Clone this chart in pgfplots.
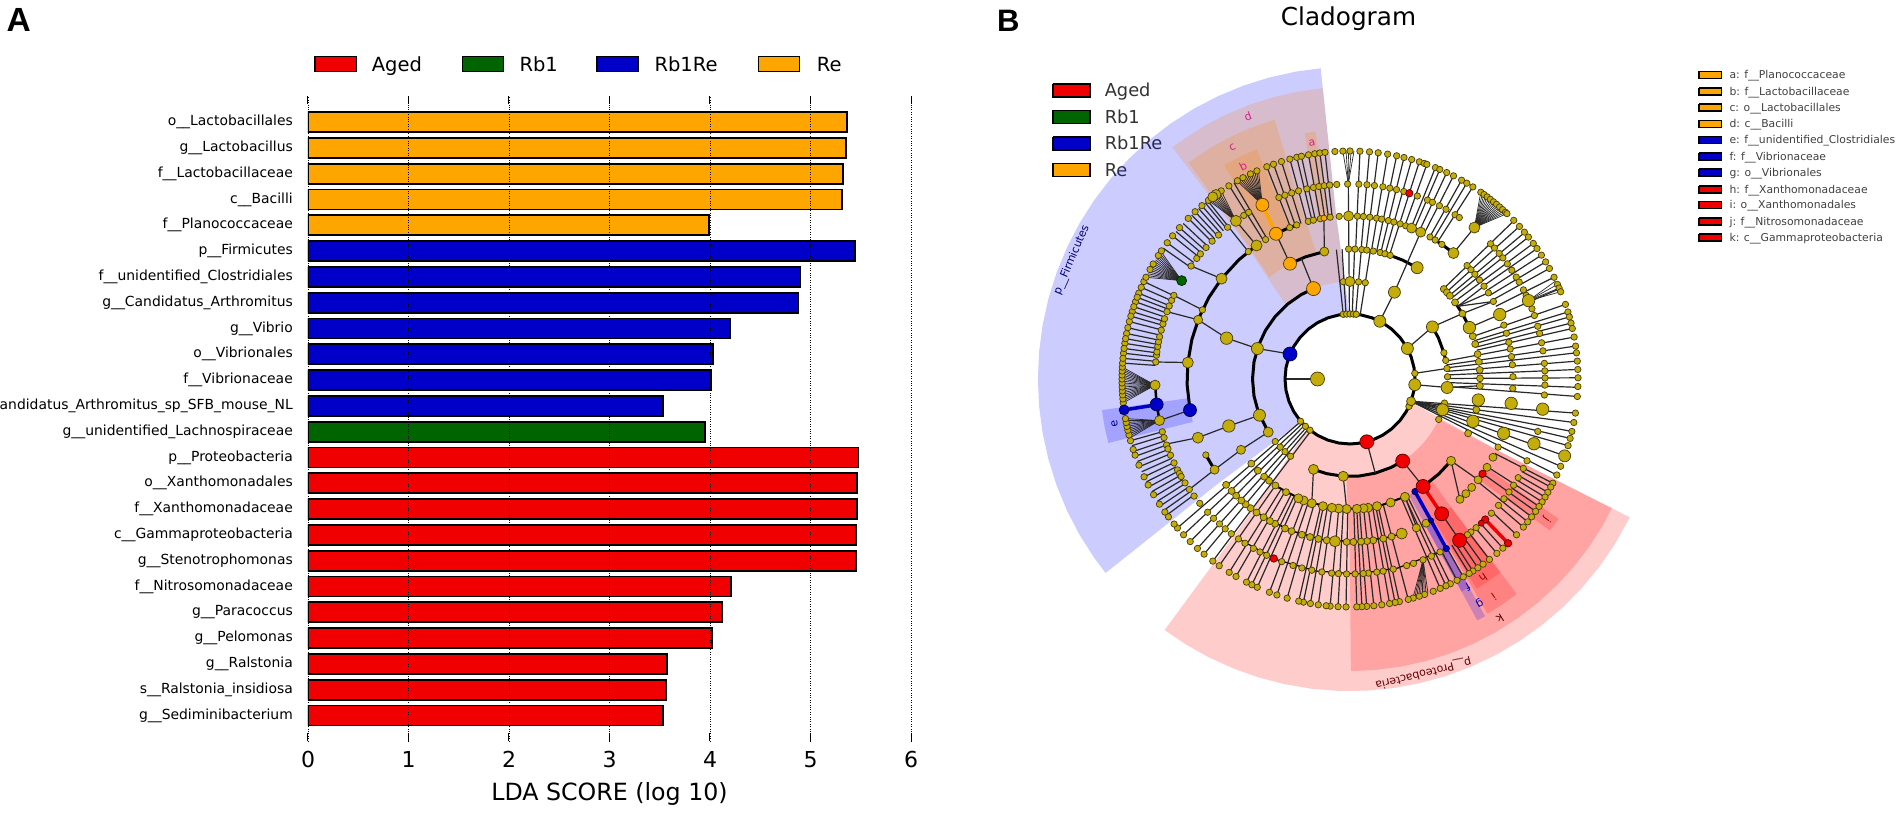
\documentclass[border=0pt]{standalone}
\usepackage{fontspec}
\setmainfont{DejaVu Sans}
\setsansfont{Liberation Sans}
\usepackage{pgfplots}
\pgfplotsset{compat=1.18}

\definecolor{cRed}{RGB}{240,0,0}
\definecolor{cGreen}{RGB}{0,100,0}
\definecolor{cBlue}{RGB}{0,0,200}
\definecolor{cOrange}{RGB}{255,165,0}
\definecolor{yel}{RGB}{196,172,10}
\definecolor{edge}{RGB}{40,40,40}

\newcommand\fs[1]{\fontsize{#1}{#1}\selectfont}

% cladogram helpers: centre of the tree is pixel (1350,379), angles in degrees
\pgfplotsset{
  table/polarrow/.style={row sep=\\,x expr={1350+\thisrow{r}*cos(\thisrow{a})},y expr={-379+\thisrow{r}*sin(\thisrow{a})}},
  table/ring/.style={row sep=\\,x expr={1350+#1*cos(\thisrow{a})},y expr={-379+#1*sin(\thisrow{a})}},
}
% annular sector, as one wide stroke: colour, mid radius, width, angles
\newcommand\sector[4]{\addplot[forget plot,no markers,draw=#1,draw opacity=.2,line width=#3pt,line cap=butt]
  table[ring=#2]{a\\#4\\};}
% thick or thin line on a ring: radius, width, colour, angles
\newcommand\arcl[4]{\addplot[forget plot,no markers,draw=#3,line width=#2pt,line cap=round]
  table[ring=#1]{a\\#4\\};}
% free line through polar points
\newcommand\poly[3]{\addplot[forget plot,no markers,draw=#2,line width=#1pt]
  table[polarrow]{a r\\#3\\};}
% radial lines: from radius, to radius, angles
\newcommand\spokes[3]{\addplot[forget plot,no markers,draw=edge,line width=1.2pt,
  quiver={u={(#2-#1)*cos(\thisrow{a})},v={(#2-#1)*sin(\thisrow{a})}}]
  table[ring=#1]{a\\#3\\};}
% lines out of one node: line width, radius, angle, outer radius, angles
\newcommand\fan[5]{\addplot[forget plot,no markers,draw=edge,line width=#1pt,
  quiver={u={#4*cos(\thisrow{a})-#2*cos(#3)},v={#4*sin(\thisrow{a})-#2*sin(#3)}}]
  table[row sep=\\,x expr={1350+#2*cos(#3)},y expr={-379+#2*sin(#3)}]{a\\#5\\};}
% nodes: ring radius, mark radius, colour, angles
\newcommand\nodes[4]{\addplot[forget plot,only marks,mark=*,mark size=#2,
  mark options={fill=#3,draw=black!65!#3,line width=.7pt}]
  table[ring=#1]{a\\#4\\};}
\newcommand\patch[6]{\addplot[forget plot,no markers,fill=#5,draw=black,line width=#6pt]
  coordinates {(#1,#2)(#3,#2)(#3,#4)(#1,#4)(#1,#2)};}

\begin{document}
\begin{tikzpicture}
\clip[use as bounding box] (0pt,0pt) rectangle (1901pt,812pt);

\begin{axis}[
  at={(308pt,71pt)},anchor=south west,scale only axis,
  width=603pt,height=645pt,
  xmin=0,xmax=6,ymin=-0.99,ymax=24.008,
  axis on top,
  axis line style={draw=none},
  xtick={0,1,2,3,4,5,6},
  xtick pos=both,xticklabel pos=bottom,
  tick align=inside,
  major tick length=8pt,
  x tick style={black,line width=1pt},
  xmajorgrids,
  grid style={dotted,black,line width=.8pt},
  x tick label style={font=\fs{22},anchor=base,yshift=-26.2pt},
  xlabel={LDA SCORE (log 10)},
  xlabel style={font=\fs{23.7},at={(axis description cs:0.5,0)},anchor=base,yshift=-59.5pt},
  ytick={0,...,23},
  ytick pos=left,
  y tick style={draw=none},
  y tick label style={font=\fs{13.9},anchor=east,inner sep=0pt,xshift=-15pt},
  yticklabels={g\_\_Sediminibacterium,s\_\_Ralstonia\_insidiosa,g\_\_Ralstonia,g\_\_Pelomonas,g\_\_Paracoccus,
    f\_\_Nitrosomonadaceae,g\_\_Stenotrophomonas,c\_\_Gammaproteobacteria,f\_\_Xanthomonadaceae,o\_\_Xanthomonadales,
    p\_\_Proteobacteria,g\_\_unidentified\_Lachnospiraceae,g\_\_Candidatus\_Arthromitus\_sp\_SFB\_mouse\_NL,
    f\_\_Vibrionaceae,o\_\_Vibrionales,g\_\_Vibrio,g\_\_Candidatus\_Arthromitus,f\_\_unidentified\_Clostridiales,
    p\_\_Firmicutes,f\_\_Planococcaceae,c\_\_Bacilli,f\_\_Lactobacillaceae,g\_\_Lactobacillus,o\_\_Lactobacillales},
  /pgf/number format/assume math mode=true,
  every axis plot/.append style={xbar,bar shift=0pt,bar width=20pt,draw=black,line width=1.8pt},
]
\addplot[fill=cRed] coordinates {(3.535,0)(3.56,1)(3.575,2)(4.02,3)(4.12,4)(4.205,5)(5.455,6)(5.455,7)(5.46,8)(5.465,9)(5.478,10)};
\addplot[fill=cGreen] coordinates {(3.95,11)};
\addplot[fill=cBlue] coordinates {(3.53,12)(4.01,13)(4.03,14)(4.2,15)(4.88,16)(4.9,17)(5.443,18)};
\addplot[fill=cOrange] coordinates {(3.99,19)(5.315,20)(5.325,21)(5.355,22)(5.36,23)};
\end{axis}

\begin{axis}[
  at={(0pt,0pt)},anchor=south west,scale only axis,
  width=1901pt,height=812pt,
  xmin=0,xmax=1901,ymin=-812,ymax=0,
  axis lines=none,clip=false,
]
% legend of panel A
\patch{315}{-56.5}{356.5}{-71.5}{cRed}{1.6}
\patch{462.5}{-56.5}{503.5}{-71.5}{cGreen}{1.6}
\patch{597}{-56.5}{638}{-71.5}{cBlue}{1.6}
\patch{758.5}{-56.5}{799.5}{-71.5}{cOrange}{1.6}
\node[anchor=base west,inner sep=0pt,font=\fs{19.5}] at (axis cs:371.7,-71.7) {Aged};
\node[anchor=base west,inner sep=0pt,font=\fs{19.5}] at (axis cs:519.3,-71.7) {Rb1};
\node[anchor=base west,inner sep=0pt,font=\fs{19.5}] at (axis cs:654.3,-71.7) {Rb1Re};
\node[anchor=base west,inner sep=0pt,font=\fs{19.5}] at (axis cs:816.7,-71.7) {Re};
% panel letters and title
\node[anchor=base west,inner sep=0pt,font=\sffamily\bfseries\fs{33.5}] at (axis cs:6.5,-32) {A};
\node[anchor=base west,inner sep=0pt,font=\sffamily\bfseries\fs{31}] at (axis cs:997,-32) {B};
\node[anchor=base,inner sep=0pt,font=\fs{24.7}] at (axis cs:1348.5,-26) {Cladogram};
% legend of panel B
\patch{1053}{-84}{1090}{-97}{cRed}{1.4}
\patch{1053}{-110.5}{1090}{-123.5}{cGreen}{1.4}
\patch{1053}{-137}{1090}{-150}{cBlue}{1.4}
\patch{1053}{-163.5}{1090}{-176.5}{cOrange}{1.4}
\node[anchor=base west,inner sep=0pt,font=\fs{17.8},text=black!80] at (axis cs:1104.6,-96.7) {Aged};
\node[anchor=base west,inner sep=0pt,font=\fs{17.8},text=black!80] at (axis cs:1104.6,-123.5) {Rb1};
\node[anchor=base west,inner sep=0pt,font=\fs{17.8},text=black!80] at (axis cs:1104.6,-150) {Rb1Re};
\node[anchor=base west,inner sep=0pt,font=\fs{17.8},text=black!80] at (axis cs:1104.6,-176.5) {Re};
% legend of clade letters
\patch{1699}{-71.5}{1721.5}{-78.5}{cOrange}{1.2}
\patch{1699}{-88}{1721.5}{-95}{cOrange}{1.2}
\patch{1699}{-104}{1721.5}{-111}{cOrange}{1.2}
\patch{1699}{-120.5}{1721.5}{-127.5}{cOrange}{1.2}
\patch{1699}{-136.5}{1721.5}{-143.5}{cBlue}{1.2}
\patch{1699}{-153}{1721.5}{-160}{cBlue}{1.2}
\patch{1699}{-169}{1721.5}{-176}{cBlue}{1.2}
\patch{1699}{-186}{1721.5}{-193}{cRed}{1.2}
\patch{1699}{-201.5}{1721.5}{-208.5}{cRed}{1.2}
\patch{1699}{-218}{1721.5}{-225}{cRed}{1.2}
\patch{1699}{-234}{1721.5}{-241}{cRed}{1.2}
\begin{scope}[every node/.style={anchor=base west,inner sep=0pt,font=\fs{10.8},text=black!75}]
\node at (axis cs:1729.3,-79) {a: f\_\_Planococcaceae};
\node at (axis cs:1729.3,-95.7) {b: f\_\_Lactobacillaceae};
\node at (axis cs:1729.3,-111.7) {c: o\_\_Lactobacillales};
\node at (axis cs:1729.3,-128) {d: c\_\_Bacilli};
\node at (axis cs:1729.3,-144) {e: f\_\_unidentified\_Clostridiales};
\node at (axis cs:1729.3,-160.7) {f: f\_\_Vibrionaceae};
\node at (axis cs:1729.3,-176.7) {g: o\_\_Vibrionales};
\node at (axis cs:1729.3,-193.3) {h: f\_\_Xanthomonadaceae};
\node at (axis cs:1729.3,-209) {i: o\_\_Xanthomonadales};
\node at (axis cs:1729.3,-225.7) {j: f\_\_Nitrosomonadaceae};
\node at (axis cs:1729.3,-241.7) {k: c\_\_Gammaproteobacteria};
\end{scope}

% shaded clades
\sector{blue}{188.5}{247}{95\\95.2\\100\\105\\110\\115\\120\\125\\130\\135\\140\\145\\150\\155\\160\\165\\170\\175\\180\\185\\190\\195\\200\\205\\210\\215\\218.2\\218.4}
\sector{red}{188.5}{247}{233.5\\233.7\\238\\243\\248\\253\\258\\263\\268\\273\\278\\283\\288\\293\\298\\303\\308\\313\\318\\323\\328\\333.8\\334}
\sector{red}{194.75}{194.5}{270\\270.2\\275\\280\\285\\290\\295\\300\\305\\310\\315\\320\\325\\330\\333.8\\334}
\sector{orange}{194.75}{194.5}{95\\95.2\\100\\105\\110\\115\\120\\127.3\\127.5}
\sector{orange}{200}{140}{106\\106.2\\111\\116\\121\\126.8\\127}
\sector{orange}{205.5}{85}{112\\112.2\\116\\120.3\\120.5}
\sector{orange}{206.5}{87}{97.7\\100.7}
\sector{blue}{206.5}{87}{187\\187.2\\191\\194.8\\195}
\sector{blue}{201.5}{143}{-62.5\\-60}
\sector{blue}{201.5}{77}{-62.5\\-60}
\sector{red}{201}{142}{-59.6\\-59.4\\-56\\-52.2\\-52}
\sector{red}{204}{82}{-59\\-58.8\\-56\\-52.2\\-52}
\sector{red}{207}{88}{-37.5\\-33.5}

% clade labels
\begin{scope}[every node/.style={inner sep=0pt,font=\fs{11}}]
\node[text=magenta!85!black,rotate=9] at (axis cs:1312,-143) {a};
\node[text=magenta!85!black,rotate=27] at (axis cs:1243,-166) {b};
\node[text=magenta!85!black,rotate=27] at (axis cs:1232.5,-147) {c};
\node[text=magenta!85!black,rotate=21] at (axis cs:1248,-116) {d};
\node[text=blue!60!black,rotate=101] at (axis cs:1114.6,-424) {e};
\node[text=blue!70!black,rotate=-150] at (axis cs:1468,-586.7) {f};
\node[text=blue!70!black,rotate=-150] at (axis cs:1479.3,-603.3) {g};
\node[text=red!60!black,rotate=-146] at (axis cs:1483.3,-578.3) {h};
\node[text=red!60!black,rotate=-146] at (axis cs:1494,-596.7) {i};
\node[text=red!60!black,rotate=-126] at (axis cs:1546.7,-520) {j};
\node[text=black!70!red,rotate=-148] at (axis cs:1500,-618.3) {k};
\node[text=blue!50!black,rotate=67] at (axis cs:1071.8,-260) {p\_\_Firmicutes};
\node[text=red!40!black,rotate=-166] at (axis cs:1423.3,-673.3) {p\_\_Proteobacteria};
\end{scope}

% rings and inner branches
\spokes{65}{32.5}{180}
\arcl{65}{3}{black}{0\\10\\20\\30\\40\\50\\60\\70\\80\\90\\100\\110\\120\\130\\140\\150\\160\\170\\180\\190\\200\\210\\220\\230\\240\\250\\260\\270\\280\\290\\300\\310\\320\\330\\340\\350\\360}
\arcl{97.5}{3}{black}{112\\120\\130\\140\\150\\160\\170\\180\\190\\200\\213}
\arcl{97.5}{3}{black}{248\\256\\266\\275\\285\\295\\302.7}
\arcl{97.5}{3}{black}{32.3\\25\\15.6\\11}
\arcl{130}{3}{black}{72\\66\\58.9}
\arcl{130}{3}{black}{36\\30.2\\23.3}
\arcl{130}{3}{black}{-55.8\\-47\\-39}
\arcl{130}{2}{black}{-124\\-112\\-100\\-88\\-76\\-65}
\arcl{130}{3}{black}{117.5\\110\\101.4}
\arcl{163}{3}{black}{125\\133\\142\\150\\158\\166\\174.2\\182\\191}
\arcl{163}{3}{black}{207.8\\213.8}
\arcl{163}{3}{black}{60.6\\55.7\\50.6}
\arcl{163}{3}{black}{117\\113\\109}
\arcl{163}{1.5}{black}{-125\\-112\\-100\\-88\\-76\\-71}
\arcl{195}{2.5}{black}{181.8\\187.5\\192.3}
\arcl{195}{1.2}{black}{-125\\-112\\-100\\-88\\-76\\-62}
\arcl{163}{2.5}{black}{-47.6\\-44.7}
\poly{1.2}{edge}{157.4 65\\161.8 97.5\\161.7 130\\158.7 163}
\poly{1.2}{edge}{201.8 97.5\\201.2 130\\201.1 163\\199.5 195}
\poly{1.2}{edge}{213 97.5\\213 130\\213.8 163\\214.5 195}
\poly{1.2}{edge}{62.7 65\\62.9 97.5\\64.3 163}
\poly{1.2}{edge}{28 65\\32.3 97.5\\30.2 130\\28.4 163}
\poly{1.2}{edge}{5 65\\6.2 97.5}
\poly{1.2}{edge}{-5 65\\-5 97.5\\-3 130}
\poly{1.2}{edge}{174.2 163\\175 195}
\poly{1.2}{edge}{142 163\\144.6 195}
\poly{1.2}{edge}{191 163\\192.3 195}
\poly{1.2}{edge}{158.7 163\\159.8 195}
\poly{1.2}{edge}{154.9 163\\154.6 195}
\poly{1.2}{edge}{50.6 163\\50.6 196}
\poly{1.2}{edge}{112 97.5\\112 130}
\poly{1.2}{edge}{117.5 130\\117 163}
\poly{1.2}{edge}{101.4 130\\99.2 163}
\poly{1.2}{edge}{125 163\\125.8 195}
\poly{1.2}{edge}{-75 65\\-75 97.5}
\poly{1.2}{edge}{-57.3 97.5\\-55.8 130}
\poly{1.2}{edge}{-112 97.5\\-107.1 130}
\poly{1.2}{edge}{-94 97.5\\-91.5 130}
\poly{1.2}{edge}{-65 130\\-65.8 163}
\poly{1.2}{edge}{-39 130\\-38.2 163}
\poly{1.2}{edge}{-39 130\\-47.6 163}
\poly{1.2}{edge}{-55.8 163\\-55.8 195}
\poly{3.5}{cBlue}{187.6 195\\187.8 228}
\poly{3.5}{cRed}{-55.8 130\\-55.8 163}
\poly{3.5}{cOrange}{117 163\\116.7 195}
\poly{3.5}{cBlue}{-60 130\\-60.2 163\\-60.4 195}
\poly{3.5}{cRed}{-46.1 195\\-46.1 228}

% leaves
\spokes{65}{130}{96\\93.5\\88\\85\\81}
\spokes{65}{195}{90.5}
\fan{.7}{195}{90.5}{228}{89\\89.7\\90.4\\91\\91.8}
\spokes{130}{228}{87.5\\85.1\\82.9\\80.5\\78.2\\76.3\\74.3\\72.3}
\spokes{163}{228}{70.3\\68\\66.8\\64.9\\63\\60.7\\59.2\\57.4}
\fan{.7}{196}{50.6}{228}{46.5\\47\\47.5\\48\\48.5\\49\\49.5\\50\\50.5\\51\\51.5\\52\\52.5\\53\\53.5\\54\\54.5\\55}
\spokes{130}{228}{44\\42\\40\\38.5\\36.5}
\spokes{163}{228}{34.9\\32.9\\30.9\\29\\26.5}
\fan{1.2}{130}{34}{163}{34.7\\31.9\\28.4}
\fan{.7}{195}{23.7}{228}{25.5\\24.5\\23.5\\22.5}
\spokes{130}{228}{23.3\\19.1\\17.1\\15.8\\14.2\\12.8}
\spokes{97.5}{228}{10.6\\8.3\\6.6\\4.5\\2.4\\0.3\\-2.1\\-4.4}
\fan{1.2}{65}{-20}{228}{-8.6\\-11\\-13.3\\-15.1\\-17\\-19.7\\-22.5\\-24.9}
\spokes{163}{228}{-27.2\\-32.6\\-35.5\\-38.8}
\spokes{195}{228}{-28.3\\-29.8\\-31.2\\-34\\-37.2\\-40.5\\-43.1\\-47.9\\-49.9\\-52.3\\-54.3\\-55.9\\-57.4\\-58.5\\-60.2\\-62}
\fan{.7}{195}{-68}{228}{-70\\-70.5\\-71\\-71.5\\-72\\-72.5\\-73\\-73.5\\-74}
\spokes{130}{228}{-63.9\\-65.1\\-66.7\\-75.2\\-77.5\\-78.6\\-80\\-82\\-84\\-85.8\\-87\\-88.3\\-91\\-93\\-95\\-98\\-100\\-101.8\\-103\\-106\\-108.7\\-110.7\\-114\\-115.5\\-117\\-120\\-122\\-125}
\spokes{65}{228}{-127\\-129.8\\-132\\-134.5\\-136.9\\-139.2}
\spokes{195}{228}{195.7\\197\\198.5\\199.8\\201.2\\202.6\\204\\205.4\\206.8\\208.2\\209.6\\211\\212.4\\213.8\\215.2\\216.6}
\fan{.7}{195}{192.3}{228}{190\\190.5\\191\\191.5\\192\\192.5\\193\\193.5\\194\\194.5\\195}
\fan{.7}{195}{181.8}{228}{177\\177.5\\178\\178.5\\179\\179.5\\180\\180.5\\181\\181.5\\182\\182.5\\183\\183.5\\184\\184.5\\185\\185.5\\186}
\spokes{195}{228}{154.7\\156.3\\157.9\\159\\160.2\\161.5\\162.8\\164\\165.4\\167\\168.5\\169.8\\171\\172.3\\173.5\\174.8\\176}
\fan{.7}{195}{149.7}{228}{146\\146.5\\147\\147.5\\148\\148.5\\149\\149.5\\150\\150.5\\151\\151.5\\152\\152.5\\153\\153.5}
\spokes{195}{228}{145\\143.3\\141.1\\139.7\\138.4\\137\\135.2\\134\\132.8\\131.6\\130.5\\129.4}
\fan{.7}{195}{125.8}{228}{124.4\\125\\125.5\\126\\126.5\\127\\127.5\\128\\128.4}
\spokes{163}{228}{128.6\\122\\120.6}
\fan{.7}{195}{116.7}{228}{113.7\\114.2\\114.7\\115.2\\115.7\\116.2\\116.7\\117.2\\117.7\\118.2\\118.7\\119.2\\119.7}
\spokes{163}{228}{111.4\\109.6\\107.5\\105.3\\103.5\\102.3\\100.5\\98.9\\97.6\\96.3}

% yellow nodes, outer ring
\nodes{228}{3.2}{yel}{87.5\\85.1\\82.9\\80.5\\78.2\\76.3\\74.3\\72.3\\71\\70.3\\68\\66.8\\64.9\\63\\60.7\\59.2\\57.4\\55\\54\\53\\52\\51\\50\\49\\48\\47\\46.5}
\nodes{228}{3.2}{yel}{44.1\\42\\40.1\\38.5\\36.5\\34.9\\32.9\\30.9\\29\\26.5\\24.5\\23.5\\22.5\\19.1\\17.1\\15.8\\14.2\\12.8\\10.6\\8.3\\6.6\\4.5\\2.4\\0.3\\-1.9\\-4.4\\-8.6\\-11\\-13.3\\-15.1\\-17\\-22.5\\-24.9}
\nodes{228}{6}{yel}{-19.7}
\nodes{228}{3.2}{yel}{-27.2\\-28.3\\-29.8\\-31.2\\-32.6\\-34\\-35.5\\-37.2\\-38.8\\-40.5\\-43.1\\-47.9\\-49.9\\-52.3\\-54.3\\-55.9\\-57.4\\-58.5\\-60.2\\-62\\-63.9\\-65.1\\-66.7\\-68.6\\-70.9\\-72.3\\-73.9\\-75.2\\-77.5\\-78.6\\-80\\-82\\-84\\-85.8\\-87\\-88.3\\-91\\-93\\-95\\-96\\-98\\-100\\-101.8\\-103\\-106\\-108.7\\-110.7\\-114\\-115.5\\-117\\-120\\-122\\-125\\-127\\-129.8\\-132\\-134.5\\-136.9\\-139.2\\-140.5}
\nodes{228}{3.2}{yel}{217.2\\215.7\\213.3\\210.5\\207.7\\205.4\\202.2\\199.5\\198\\195.7\\194.2\\193\\192\\191\\190\\186\\185\\184\\183\\182\\181\\180\\179\\178\\177\\176\\173.5\\171\\168.5\\165.4\\162.8\\160.2\\157.9\\154.7\\174.8\\172.3\\169.8\\167\\164\\161.5\\159\\156.3}
\nodes{228}{3.2}{yel}{153.5\\151.3\\149.7\\147.2\\145.8\\143.3\\141.1\\138.4\\135.2\\132.8\\130.5\\128.4\\124.4\\122.1\\119.6\\118\\115.9\\114.1\\111.4\\109.6\\107.5\\105.3\\103.5\\102.3\\100.5\\98.9\\97.6\\96.3\\93.8\\91.8\\90}
\nodes{228}{5}{yel}{126\\127}
% ring 195
\nodes{195}{3.2}{yel}{90.7\\87.4\\85\\82.8\\80.3\\78.2\\76.2\\74\\69.8\\66.6\\65\\62.7\\60.5\\57.4\\55.9}
\nodes{195}{3.2}{yel}{43.9\\42.2\\40.1\\38.4\\36.2\\33.9\\31.5\\29.8\\27.2\\25.4\\21.1\\19\\15.7\\13.5\\10.7\\8.3\\4.6\\2.4\\0.3\\-1.8\\-4.7\\-15.6\\-24.8}
\nodes{195}{6.2}{yel}{23.7\\-8.9\\-19.4}
\nodes{196}{5.5}{yel}{50.6}
\nodes{195}{3.2}{yel}{-27.3\\-30.4\\-33\\-35.4\\-37.9\\-40.4\\-43.5\\-49.7\\-51.7\\-53\\-62.5\\-65.3\\-68\\-71\\-73.1\\-77.2\\-80.2\\-82.1\\-84.6\\-86.1\\-88.5\\-91\\-93.4\\-95.4\\-98.3\\-101.3\\-104.3\\-107\\-110.5\\-115.3\\-117.5\\-119.7\\-122.6\\-124.9\\-127.5\\-129.8\\-132\\-134.4\\-136.9\\-140.4}
\nodes{195}{3.2}{yel}{195.7\\197.5\\199.8\\201\\203\\205.5\\207.8\\209\\210\\212.2\\214.5\\216.9}
\nodes{195}{3.2}{yel}{175\\173\\172\\170.4\\169\\167.5\\165.5\\163.6\\162\\159.8\\158\\156.2\\154.6}
\nodes{195}{5}{yel}{181.8\\192.3}
\nodes{195}{3.2}{yel}{144.6\\141.8\\140.1\\137.6\\135\\132.4\\128.9\\123\\121.3}
\nodes{195}{5.5}{yel}{125.8}
\nodes{195}{3.2}{yel}{111.4\\109.5\\107.4\\105.3\\102.8\\100.8\\99.2\\97.6\\96\\93.9}
% ring 163
\nodes{163}{3.2}{yel}{87.4\\85.3\\83\\80.6\\78.8\\76.4\\74.4\\72.1\\70\\60.6\\58.5\\55.7}
\nodes{163}{5}{yel}{90.5\\67.8\\64.3}
\nodes{163}{5.5}{yel}{50.6\\142\\125\\174.2}
\nodes{163}{3.2}{yel}{44.1\\42.1\\40\\37.4\\34.7\\31.9\\28.4\\19.3\\16.3\\13\\10.6\\7.9\\5\\0.8\\-3.3\\-24.7}
\nodes{163}{6.2}{yel}{23.3\\-8.6\\-19.5}
\nodes{163}{4}{yel}{-28.7\\-32.8\\-38.2\\-41.7\\-44.7\\-47.6\\-62.2\\-66}
\nodes{163}{3.5}{yel}{-75.2\\-78.2\\-81.8\\-84\\-86.1\\-88.8\\-91.2\\-98.2\\-101.2\\-104.2\\-107.2\\-111\\-113.5\\-117.4\\-119.4\\-122\\-125\\-127.6\\-129.8\\-131.8\\-134.3\\-136.6\\-139.5}
\nodes{163}{5.5}{yel}{-71.5\\-95.3\\201.1}
\nodes{163}{4.5}{yel}{213.8\\158.7}
\nodes{163}{3.2}{yel}{207.8\\154.9\\128.6\\121.2\\111.7\\109.1\\104.8\\103\\100.5\\97\\93.8}
% ring 130
\nodes{130}{3.2}{yel}{90.6\\87.8\\84.8\\82.6\\79.7\\76.6\\74.4\\72}
\nodes{130}{6}{yel}{58.9}
\nodes{130}{3.5}{yel}{43.8\\41.8\\39.8\\36.1\\30.2\\19.2\\15.6\\11\\7.6\\4\\0.3\\-3\\-13.7\\-24.7}
\nodes{130}{6.2}{yel}{23.3\\-9.3\\-19\\161.7\\201.2}
\nodes{130}{4.5}{yel}{-39\\-65\\-71.8\\-78\\-82\\-84\\-87\\-91.5\\-95\\-98\\-102\\-107.1\\-110.9\\-113.4\\213\\101.4}
\nodes{130}{3.5}{yel}{-119.5\\-125\\-128.5\\-131.3\\-135.2\\-139.4}
% ring 97.5
\nodes{97.5}{3.2}{yel}{94\\85\\81\\15.6\\11\\6.2\\1.3\\-14.3\\-24.5\\-140.1\\-135.7\\-131.8\\-127.6}
\nodes{97.5}{5}{yel}{90\\-112\\-94\\213}
\nodes{97.5}{6}{yel}{62.9\\32.3\\-5\\-18.4\\161.8\\201.8}
% ring 65
\nodes{65}{3.2}{yel}{96\\93\\90\\87\\84.5\\5\\-23\\-25\\-139.5\\-133.3\\-128}
\nodes{65}{4.5}{yel}{-20}
\nodes{65}{6}{yel}{62.7\\28\\-5}
\nodes{32.5}{7}{yel}{180}

% coloured nodes
\nodes{65}{7}{cBlue}{157.4}
\nodes{163}{6.5}{cBlue}{191}
\nodes{195}{6.5}{cBlue}{187.5}
\nodes{228}{5}{cBlue}{187.8}
\nodes{130}{3.2}{cBlue}{-60}
\nodes{163}{2.6}{cBlue}{-60.2}
\nodes{195}{3.2}{cBlue}{-60.4}
\nodes{195}{5}{cGreen}{149.7}
\nodes{195}{6.5}{cOrange}{116.7}
\nodes{163}{6.5}{cOrange}{117}
\nodes{130}{6.5}{cOrange}{117.5}
\nodes{97.5}{7}{cOrange}{112}
\nodes{163}{3}{cOrange}{99.2}
\nodes{65}{7}{cRed}{-75}
\nodes{97.5}{7}{cRed}{-57.3}
\nodes{130}{7}{cRed}{-55.8}
\nodes{163}{7}{cRed}{-55.8}
\nodes{195}{7}{cRed}{-55.8}
\nodes{195}{3.7}{cRed}{72.3\\-113\\-46.1}
\nodes{195}{3}{cRed}{-47.7}
\nodes{163}{3.7}{cRed}{-35.6}
\nodes{228}{3.7}{cRed}{-46.1}
\end{axis}
\end{tikzpicture}
\end{document}
